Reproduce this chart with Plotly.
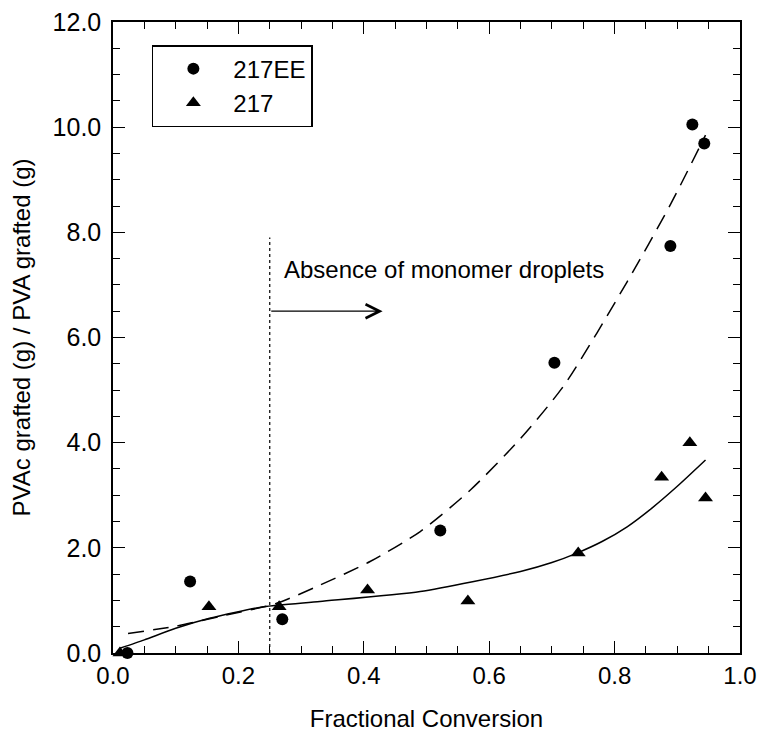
import plotly.graph_objects as go

# Data
ee_x = [0.023, 0.123, 0.270, 0.522, 0.704, 0.889, 0.924, 0.943]
ee_y = [0.00, 1.36, 0.64, 2.33, 5.52, 7.74, 10.05, 9.69]

s217_x = [0.011, 0.153, 0.265, 0.406, 0.566, 0.742, 0.875, 0.920, 0.945]
s217_y = [0.00, 0.88, 0.88, 1.20, 0.99, 1.90, 3.34, 4.00, 2.95]

# Fitted curves
fit_ee_x = [0.024, 0.10, 0.18, 0.26, 0.33, 0.41, 0.49, 0.57, 0.65, 0.72, 0.82, 0.89, 0.945]
fit_ee_y = [0.37, 0.51, 0.72, 0.94, 1.29, 1.74, 2.31, 3.10, 4.08, 5.10, 7.06, 8.55, 9.85]

fit_217_x = [0.011, 0.05, 0.10, 0.154, 0.24, 0.33, 0.49, 0.65, 0.70, 0.74, 0.78, 0.82, 0.86, 0.90, 0.945]
fit_217_y = [0.09, 0.25, 0.47, 0.66, 0.88, 0.98, 1.17, 1.55, 1.72, 1.90, 2.12, 2.40, 2.76, 3.17, 3.67]

x_ticks = [0.0, 0.2, 0.4, 0.6, 0.8, 1.0]
y_ticks = [0.0, 2.0, 4.0, 6.0, 8.0, 10.0, 12.0]

boundary_x = 0.25
boundary_top = 7.9
arrow_y = 6.5
arrow_end = 0.43
label_text = "Absence of monomer droplets"

FONT = "Liberation Sans, Arial, Helvetica, sans-serif"

fig = go.Figure()

fig.add_trace(go.Scatter(x=fit_ee_x, y=fit_ee_y, mode="lines", line=dict(color="black", width=1.5, dash="16px,9px", shape="spline", smoothing=0.7), showlegend=False, hoverinfo="skip"))
fig.add_trace(go.Scatter(x=fit_217_x, y=fit_217_y, mode="lines", line=dict(color="black", width=1.5, shape="spline", smoothing=0.6), showlegend=False, hoverinfo="skip"))

fig.add_trace(go.Scatter(x=ee_x, y=ee_y, mode="markers", name="217EE", marker=dict(symbol="circle", size=12, color="black"), cliponaxis=False))
fig.add_trace(go.Scatter(x=s217_x, y=s217_y, mode="markers", name="217", marker=dict(symbol="triangle-up", size=13, color="black"), cliponaxis=False))

fig.add_shape(type="line", x0=boundary_x, x1=boundary_x, y0=0, y1=boundary_top, xref="x", yref="y", line=dict(color="black", width=1.2, dash="dot"))

fig.add_annotation(x=arrow_end, y=arrow_y, ax=boundary_x, ay=arrow_y, xref="x", yref="y", axref="x", ayref="y", text="", showarrow=True, arrowhead=5, arrowsize=2.3, arrowwidth=1.2, arrowcolor="black", standoff=0, startstandoff=0)
fig.add_annotation(x=0.27, y=7.3, xref="x", yref="y", text=label_text, showarrow=False, xanchor="left", yanchor="middle", font=dict(family=FONT, size=24, color="black"))

axis_common = dict(
    showline=True, linecolor="black", linewidth=1.5, mirror="allticks",
    ticks="inside", ticklen=12, tickwidth=1.3, tickcolor="black",
    showgrid=False, zeroline=False, tickformat=".1f",
    ticklabeloverflow="allow",
)

fig.update_xaxes(range=[0, 1], tickvals=x_ticks,
                 tickfont=dict(family=FONT, size=24, color="black"),
                 minor=dict(dtick=0.05, ticks="inside", ticklen=7, tickwidth=1.2, tickcolor="black", showgrid=False),
                 title=dict(text="Fractional Conversion", font=dict(family=FONT, size=24, color="black"), standoff=26),
                 **axis_common)
fig.update_yaxes(range=[0, 12], tickvals=y_ticks, ticklabelstandoff=5,
                 tickfont=dict(family=FONT, size=25, color="black"),
                 minor=dict(dtick=0.5, ticks="inside", ticklen=7, tickwidth=1.2, tickcolor="black", showgrid=False),
                 title=dict(text="PVAc grafted (g) / PVA grafted (g)", font=dict(family=FONT, size=24, color="black"), standoff=15),
                 **axis_common)

fig.update_layout(
    width=758, height=732,
    margin=dict(l=113, r=18, t=22, b=79, autoexpand=False),
    paper_bgcolor="white", plot_bgcolor="white",
    font=dict(family=FONT, size=24, color="black"),
    legend=dict(x=0.062, y=0.9635, xanchor="left", yanchor="top",
                bordercolor="black", borderwidth=1.5, bgcolor="white",
                font=dict(family=FONT, size=24, color="black"),
                itemwidth=70, tracegroupgap=0),
    showlegend=True,
)

fig.write_html("out.html")
